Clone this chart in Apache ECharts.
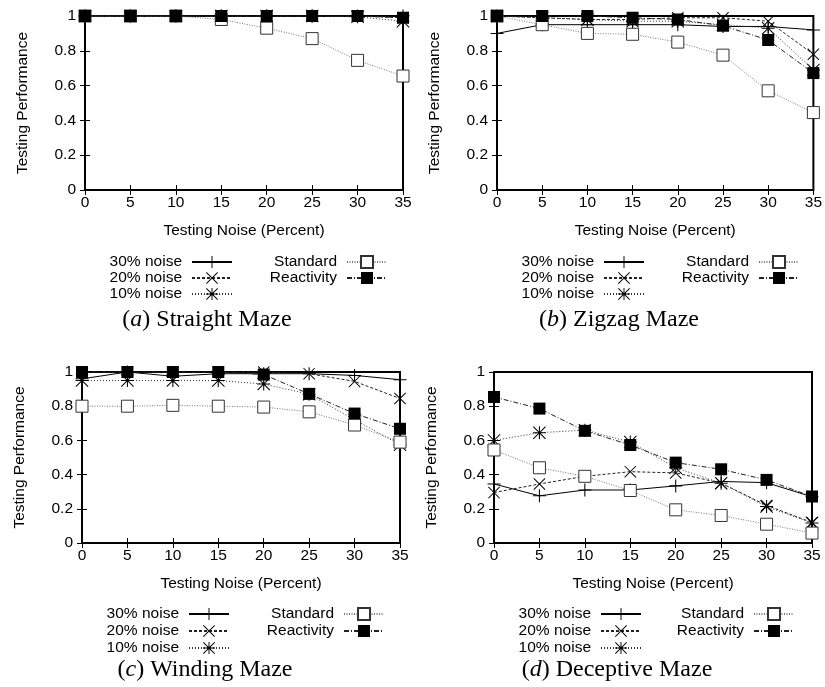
<!DOCTYPE html>
<html>
<head>
<meta charset="utf-8">
<script src="https://cdn.jsdelivr.net/npm/echarts@6/dist/echarts.min.js"></script>
<style>
html,body{margin:0;padding:0;background:#fff;}
#chart{width:825px;height:687px;}
</style>
</head>
<body>
<div id="chart"></div>
<script>
// ---- data ----
const xTicks = [0, 5, 10, 15, 20, 25, 30, 35];
const seriesNames = ['30% noise', '20% noise', '10% noise', 'Standard', 'Reactivity'];
const panelTitles = ['Straight Maze', 'Zigzag Maze', 'Winding Maze', 'Deceptive Maze'];
const panelLetters = ['a', 'b', 'c', 'd'];

const straight30 = [1, 1, 1, 1, 1, 1, 1, 1];
const straight20 = [1, 1, 1, 1, 1, 1, 1, 0.99];
const straight10 = [1, 1, 1, 1, 1, 1, 0.995, 0.97];
const straightStd = [1, 1, 1, 0.98, 0.93, 0.87, 0.745, 0.655];
const straightReact = [1, 1, 1, 1, 1, 1, 1, 0.99];

const zigzag30 = [0.90, 0.95, 0.95, 0.95, 0.95, 0.94, 0.94, 0.92];
const zigzag20 = [1, 0.99, 0.98, 0.98, 0.99, 0.99, 0.97, 0.78];
const zigzag10 = [1, 0.99, 0.98, 0.97, 0.97, 0.95, 0.93, 0.69];
const zigzagStd = [1, 0.95, 0.90, 0.895, 0.85, 0.775, 0.57, 0.445];
const zigzagReact = [1, 1, 1, 0.99, 0.98, 0.944, 0.862, 0.672];

const winding30 = [0.96, 1.0, 0.975, 0.99, 0.99, 0.99, 0.98, 0.955];
const winding20 = [1, 1, 1, 1, 1.0, 0.99, 0.945, 0.845];
const winding10 = [0.95, 0.95, 0.95, 0.95, 0.93, 0.87, 0.72, 0.575];
const windingStd = [0.80, 0.80, 0.805, 0.80, 0.795, 0.767, 0.69, 0.59];
const windingReact = [1, 1, 1, 1, 0.985, 0.872, 0.757, 0.668];

const deceptive30 = [0.345, 0.276, 0.31, 0.31, 0.334, 0.36, 0.353, 0.27];
const deceptive20 = [0.295, 0.345, 0.39, 0.417, 0.41, 0.35, 0.22, 0.12];
const deceptive10 = [0.60, 0.645, 0.66, 0.59, 0.44, 0.35, 0.213, 0.117];
const deceptiveStd = [0.544, 0.44, 0.39, 0.307, 0.194, 0.161, 0.11, 0.058];
const deceptiveReact = [0.854, 0.786, 0.656, 0.573, 0.47, 0.431, 0.369, 0.272];

const panels = [
  [straight30, straight20, straight10, straightStd, straightReact],
  [zigzag30, zigzag20, zigzag10, zigzagStd, zigzagReact],
  [winding30, winding20, winding10, windingStd, windingReact],
  [deceptive30, deceptive20, deceptive10, deceptiveStd, deceptiveReact]
];

// ---- styles ----
const PLUS = 'path://M9.2,0H10.8V20H9.2Z M0,9.2H20V10.8H0Z';
const CROSS = 'path://M0,1.1L1.1,0L20,18.9L18.9,20Z M18.9,0L20,1.1L1.1,20L0,18.9Z';
const STAR = 'path://M9.2,0H10.8V20H9.2Z M0,9.2H20V10.8H0Z M0,1.1L1.1,0L20,18.9L18.9,20Z M18.9,0L20,1.1L1.1,20L0,18.9Z';

const styles = [
  {symbol: PLUS, symbolSize: 13, line: {color: '#000', width: 1, type: 'solid'}, item: {color: '#000'}},
  {symbol: CROSS, symbolSize: 12, line: {color: '#222', width: 1, type: [3, 2]}, item: {color: '#000'}},
  {symbol: STAR, symbolSize: 13, line: {color: '#333', width: 1, type: [1, 2]}, item: {color: '#000'}},
  {symbol: 'rect', symbolSize: 12, line: {color: '#777', width: 1, type: [1, 1.5]}, item: {color: '#fff', borderColor: '#333', borderWidth: 1}},
  {symbol: 'rect', symbolSize: 12, line: {color: '#222', width: 1, type: [5, 2, 1, 2]}, item: {color: '#000'}}
];

const grids = [
  {left: 85, right: 422, top: 16, height: 174},
  {left: 497, right: 10, top: 16, height: 174},
  {left: 82, right: 425, top: 372, height: 171},
  {left: 494, right: 13, top: 372, height: 171}
];

const FONT = 'Liberation Sans';
const xAxes = [], yAxes = [], series = [], legends = [], graphics = [];

grids.forEach((g, p) => {
  g.show = true; g.borderColor = '#000'; g.borderWidth = 2; g.containLabel = false;
  const tick = {show: true, inside: true, length: 5, lineStyle: {color: '#000', width: 1}};
  xAxes.push({
    type: 'value', gridIndex: p, position: 'bottom', min: 0, max: 35, interval: 5,
    axisLine: {show: false}, axisTick: tick, splitLine: {show: false},
    axisLabel: {color: '#000', fontSize: 15.5, fontFamily: FONT, margin: 5},
    name: 'Testing Noise (Percent)', nameLocation: 'middle', nameGap: 33,
    nameTextStyle: {color: '#000', fontSize: 15.5, fontFamily: FONT}
  });
  xAxes.push({
    type: 'value', gridIndex: p, position: 'top', min: 0, max: 35, interval: 5,
    axisLine: {show: false}, axisTick: tick, splitLine: {show: false}, axisLabel: {show: false}
  });
  yAxes.push({
    type: 'value', gridIndex: p, position: 'left', min: 0, max: 1, interval: 0.2,
    axisLine: {show: false}, axisTick: tick, splitLine: {show: false},
    axisLabel: {color: '#000', fontSize: 15.5, fontFamily: FONT, margin: 9},
    name: 'Testing Performance', nameLocation: 'middle', nameGap: 54,
    nameTextStyle: {color: '#000', fontSize: 15.5, fontFamily: FONT}
  });
  yAxes.push({
    type: 'value', gridIndex: p, position: 'right', min: 0, max: 1, interval: 0.2,
    axisLine: {show: false}, axisTick: tick, splitLine: {show: false}, axisLabel: {show: false}
  });
  panels[p].forEach((vals, s) => {
    const st = styles[s];
    series.push({
      type: 'line', name: seriesNames[s], xAxisIndex: 2 * p, yAxisIndex: 2 * p,
      data: xTicks.map((x, i) => [x, vals[i]]),
      symbol: st.symbol, symbolSize: st.symbolSize, showSymbol: true,
      lineStyle: st.line, itemStyle: st.item, z: 2 + s, animation: false,
      emphasis: {disabled: true}
    });
  });
});

const legendTops = [254, 254, 606, 606];
const legendCol1Right = [233, 645, 230, 642];
const legendCol2Right = [388, 800, 385, 795];
const legendGap = [0, 0, 1, 1];
function makeLegend(names, rightEdge, top, gap) {
  return {
    data: names, orient: 'vertical', align: 'right', right: 825 - rightEdge, top: top,
    padding: 0, itemGap: gap, itemWidth: 40, itemHeight: 15, selectedMode: false,
    textStyle: {color: '#000', fontSize: 15.5, fontFamily: FONT, lineHeight: 15, padding: [0, 5, 0, 0]}
  };
}
const captionPos = [[207, 320], [619, 320], [205, 670], [617, 670]];
for (let p = 0; p < 4; p++) {
  legends.push(makeLegend(seriesNames.slice(0, 3), legendCol1Right[p], legendTops[p], legendGap[p]));
  legends.push(makeLegend(seriesNames.slice(3), legendCol2Right[p], legendTops[p], legendGap[p]));
  graphics.push({
    type: 'text', x: captionPos[p][0], y: captionPos[p][1],
    style: {
      text: '({it|' + panelLetters[p] + '}) ' + panelTitles[p],
      align: 'center', verticalAlign: 'middle',
      fontFamily: 'Liberation Serif', fontSize: 24, fill: '#000',
      rich: {it: {fontStyle: 'italic', fontFamily: 'Liberation Serif', fontSize: 24}}
    }
  });
}

const chart = echarts.init(document.getElementById('chart'), null, {renderer: 'canvas'});
chart.setOption({
  animation: false,
  backgroundColor: '#fff',
  textStyle: {fontFamily: FONT},
  grid: grids, xAxis: xAxes, yAxis: yAxes, series: series,
  legend: legends, graphic: graphics
});
</script>
</body>
</html>
